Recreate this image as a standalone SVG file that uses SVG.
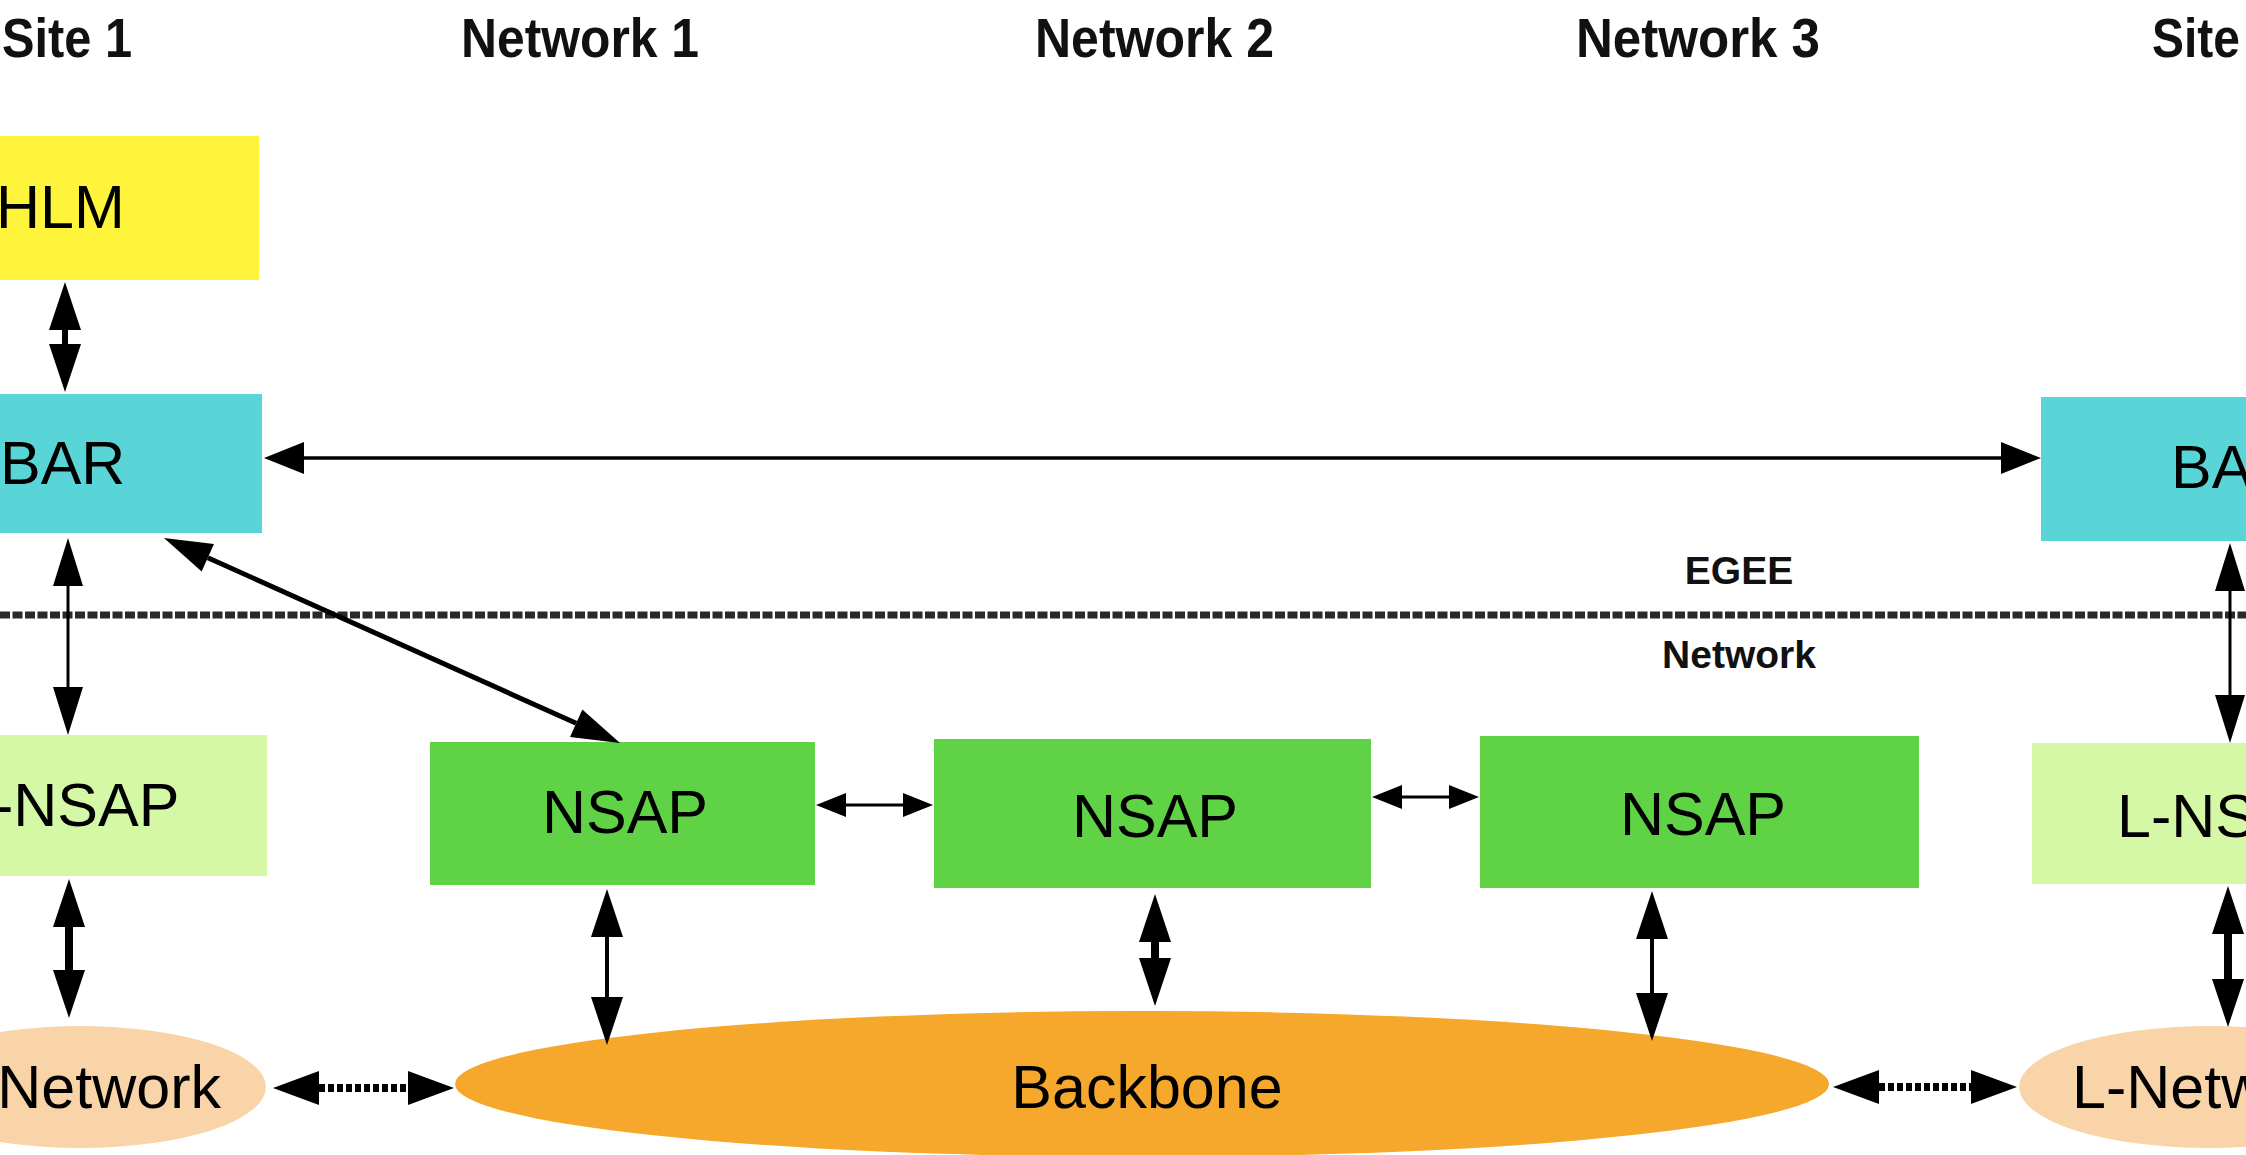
<svg xmlns="http://www.w3.org/2000/svg" width="2246" height="1155" viewBox="0 0 2246 1155">
<style>
.hdr{font-family:"Liberation Sans",Arial,sans-serif;font-weight:bold;font-size:56px;fill:#111}
.lbl{font-family:"Liberation Sans",Arial,sans-serif;font-size:61px;fill:#000}
.small{font-family:"Liberation Sans",Arial,sans-serif;font-weight:bold;font-size:39px;fill:#111}
.hlm{fill:#FEF43C}
.bar{fill:#5AD5D7}
.lnsap{fill:#D4F8A6}
.nsap{fill:#5FD246}
.lnet{fill:#F9D4A8}
.bb{fill:#F5A82C}
.c{stroke:#000;fill:none}
.dot{stroke-dasharray:6 3}
</style>
<defs>
<marker id="hA" markerWidth="48" markerHeight="32" refX="0" refY="16" orient="auto-start-reverse" markerUnits="userSpaceOnUse" overflow="visible"><path d="M0,0 L48,16 L0,32 Z" fill="#000"/></marker>
<marker id="hB" markerWidth="48" markerHeight="30" refX="0" refY="15" orient="auto-start-reverse" markerUnits="userSpaceOnUse" overflow="visible"><path d="M0,0 L48,15 L0,30 Z" fill="#000"/></marker>
<marker id="hC" markerWidth="40" markerHeight="32" refX="0" refY="16" orient="auto-start-reverse" markerUnits="userSpaceOnUse" overflow="visible"><path d="M0,0 L40,16 L0,32 Z" fill="#000"/></marker>
<marker id="hD" markerWidth="30" markerHeight="24" refX="0" refY="12" orient="auto-start-reverse" markerUnits="userSpaceOnUse" overflow="visible"><path d="M0,0 L30,12 L0,24 Z" fill="#000"/></marker>
<marker id="hE" markerWidth="46" markerHeight="34" refX="0" refY="17" orient="auto-start-reverse" markerUnits="userSpaceOnUse" overflow="visible"><path d="M0,0 L46,17 L0,34 Z" fill="#000"/></marker>
</defs>
<rect width="2246" height="1155" fill="#fff"/>

<g id="headers">
<text class="hdr" x="2" y="57" textLength="130" lengthAdjust="spacingAndGlyphs">Site 1</text>
<text class="hdr" x="461" y="57" textLength="238" lengthAdjust="spacingAndGlyphs">Network 1</text>
<text class="hdr" x="1035" y="57" textLength="239" lengthAdjust="spacingAndGlyphs">Network 2</text>
<text class="hdr" x="1576" y="57" textLength="244" lengthAdjust="spacingAndGlyphs">Network 3</text>
<text class="hdr" x="2152" y="57" textLength="88" lengthAdjust="spacingAndGlyphs">Site</text>
</g>

<g id="boundary">
<line x1="0" y1="615" x2="2246" y2="615" stroke="#2a2a2a" stroke-width="7" stroke-dasharray="10 2.5"/>
<text class="small" x="1739" y="584" text-anchor="middle">EGEE</text>
<text class="small" x="1739" y="668" text-anchor="middle">Network</text>
</g>

<g id="hlm1"><rect class="hlm" x="0" y="136" width="259" height="144"/><text class="lbl" x="-4" y="228">HLM</text></g>
<g id="bar1"><rect class="bar" x="0" y="394" width="262" height="139"/><text class="lbl" x="0" y="484">BAR</text></g>
<g id="lnsap1"><rect class="lnsap" x="0" y="735" width="267" height="141"/><text class="lbl" x="-7" y="826">-NSAP</text></g>
<g id="lnet1"><ellipse class="lnet" cx="80" cy="1087" rx="186" ry="61"/><text class="lbl" x="221" y="1108" text-anchor="end">Network</text></g>

<g id="nsap1"><rect class="nsap" x="430" y="742" width="385" height="143"/><text class="lbl" x="625" y="833" text-anchor="middle">NSAP</text></g>
<g id="nsap2"><rect class="nsap" x="934" y="739" width="437" height="149"/><text class="lbl" x="1155" y="837" text-anchor="middle" font-size="67">NSAP</text></g>
<g id="nsap3"><rect class="nsap" x="1480" y="736" width="439" height="152"/><text class="lbl" x="1703" y="835" text-anchor="middle" font-size="68">NSAP</text></g>
<g id="backbone"><ellipse class="bb" cx="1142" cy="1084" rx="687" ry="73"/><text class="lbl" x="1147" y="1108" text-anchor="middle" font-size="64">Backbone</text></g>

<g id="bar2"><rect class="bar" x="2041" y="397" width="205" height="144"/><text class="lbl" x="2171" y="488">BA</text></g>
<g id="lnsap2"><rect class="lnsap" x="2032" y="743" width="214" height="141"/><text class="lbl" x="2117" y="837">L-NS</text></g>
<g id="lnet2"><ellipse class="lnet" cx="2209" cy="1087" rx="190" ry="61"/><text class="lbl" x="2072" y="1108">L-Netw</text></g>

<g id="connectors">
<line class="c" x1="65" y1="330" x2="65" y2="344" stroke-width="6" marker-start="url(#hA)" marker-end="url(#hA)"/>
<line class="c" x1="304" y1="458" x2="2001" y2="458" stroke-width="3.5" marker-start="url(#hC)" marker-end="url(#hC)"/>
<line class="c" x1="68" y1="586" x2="68" y2="687" stroke-width="3" marker-start="url(#hB)" marker-end="url(#hB)"/>
<line class="c" x1="207.8" y1="557.7" x2="576.2" y2="723.3" stroke-width="5" marker-start="url(#hB)" marker-end="url(#hB)"/>
<line class="c" x1="69" y1="927" x2="69" y2="970" stroke-width="8" marker-start="url(#hA)" marker-end="url(#hA)"/>
<line class="c dot" x1="319" y1="1088" x2="408" y2="1088" stroke-width="8" marker-start="url(#hE)" marker-end="url(#hE)"/>
<line class="c" x1="846" y1="805" x2="903" y2="805" stroke-width="3" marker-start="url(#hD)" marker-end="url(#hD)"/>
<line class="c" x1="1402" y1="797" x2="1449" y2="797" stroke-width="3" marker-start="url(#hD)" marker-end="url(#hD)"/>
<line class="c" x1="607" y1="937" x2="607" y2="997" stroke-width="4" marker-start="url(#hA)" marker-end="url(#hA)"/>
<line class="c" x1="1155" y1="942" x2="1155" y2="958" stroke-width="8" marker-start="url(#hA)" marker-end="url(#hA)"/>
<line class="c" x1="1652" y1="939" x2="1652" y2="993" stroke-width="4" marker-start="url(#hA)" marker-end="url(#hA)"/>
<line class="c dot" x1="1879" y1="1087" x2="1971" y2="1087" stroke-width="8" marker-start="url(#hE)" marker-end="url(#hE)"/>
<line class="c" x1="2230" y1="591" x2="2230" y2="695" stroke-width="3" marker-start="url(#hB)" marker-end="url(#hB)"/>
<line class="c" x1="2228" y1="934" x2="2228" y2="979" stroke-width="8" marker-start="url(#hA)" marker-end="url(#hA)"/>
</g>
</svg>
